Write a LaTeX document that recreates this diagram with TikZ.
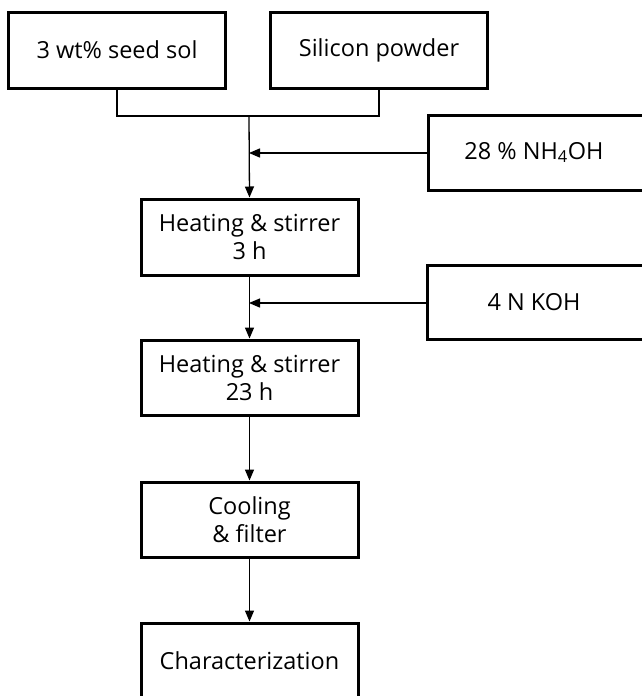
\documentclass[tikz,border=0pt]{standalone}
\usepackage{fontspec}
\setmainfont{Open Sans}
\usetikzlibrary{arrows.meta}
\tikzset{
  box/.style={draw=black, line width=3pt, fill=white, minimum width=217pt, align=center,
    font=\fontsize{23.5}{28}\selectfont, inner sep=0pt},
  conn/.style={draw=black, line width=1.3pt},
  arr/.style={conn, -{Triangle[length=11pt,width=9pt]}}
}
\begin{document}
\begin{tikzpicture}[x=1pt,y=-1pt]
\useasboundingbox (0,0) rectangle (642,696);
\node[box, minimum height=76pt] (seed) at (117,50) {3 wt\% seed sol};
\node[box, minimum height=76pt] (si) at (379,50) {Silicon powder};
\node[box, minimum height=75pt, minimum width=222pt] (nh) at (539,152.5) {\hspace*{-10pt}28 \% NH\textsubscript{4}OH};
\node[box, minimum height=76pt] (h1) at (249.5,237) {Heating \& stirrer\\3 h};
\node[box, minimum height=74pt, minimum width=222pt] (koh) at (538,302) {\hspace*{-8pt}4 N KOH};
\node[box, minimum height=75pt] (h2) at (249.5,377.5) {Heating \& stirrer\\23 h};
\node[box, minimum height=75pt] (cool) at (249.5,519.5) {Cooling\\\& filter};
\node[box, minimum height=76pt] (char) at (249.5,661) {Characterization};
\coordinate (j) at (249,116);
\coordinate (n1) at (249,153);
\coordinate (n2) at (249,303);
\draw[conn] (seed.south) |- (j) -| (si.south);
\draw[arr] (j) -- (h1.north);
\draw[arr] (nh.west |- n1) -- (n1);
\draw[arr] (h1.south) -- (h2.north);
\draw[arr] (koh.west |- n2) -- (n2);
\draw[arr] (h2.south) -- (cool.north);
\draw[arr] (cool.south) -- (char.north);
\end{tikzpicture}
\end{document}
